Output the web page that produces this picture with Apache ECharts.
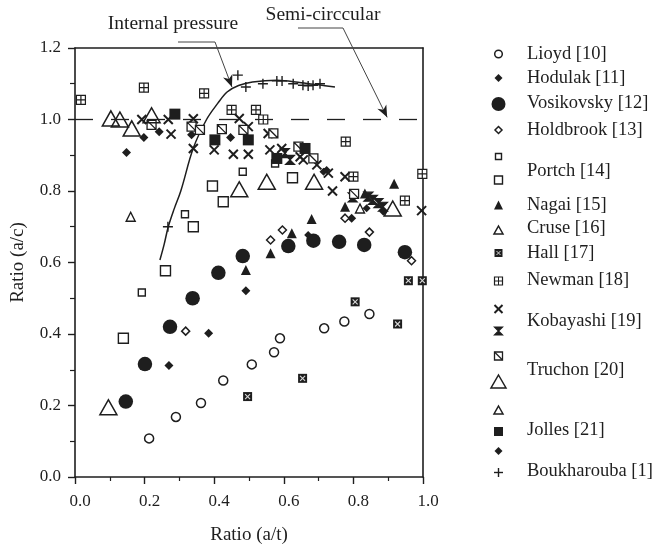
<!DOCTYPE html>
<html><head><meta charset="utf-8">
<script src="https://cdn.jsdelivr.net/npm/echarts@6/dist/echarts.min.js"></script>
<style>html,body{margin:0;padding:0;background:#fff}#c{width:658px;height:558px}</style>
</head><body><div id="c"></div>
<script>
// ---------- data ----------
const xTickLabels = ['0.0','0.2','0.4','0.6','0.8','1.0'];
const yTickLabels = ['0.0','0.2','0.4','0.6','0.8','1.0','1.2'];
const xAxisName = 'Ratio (a/t)';
const yAxisName = 'Ratio (a/c)';

const lioyd = [[0.213,0.108],[0.29,0.168],[0.362,0.207],[0.426,0.27],[0.508,0.315],[0.572,0.349],[0.589,0.388],[0.716,0.416],[0.774,0.435],[0.846,0.456]];
const hodulak = [[0.148,0.908],[0.198,0.95],[0.242,0.966],[0.335,0.957],[0.447,0.95],[0.27,0.312],[0.384,0.402],[0.491,0.521],[0.795,0.724]];
const vosikovsky = [[0.146,0.211],[0.201,0.316],[0.273,0.42],[0.338,0.50],[0.412,0.571],[0.482,0.618],[0.613,0.646],[0.685,0.661],[0.759,0.658],[0.831,0.649],[0.948,0.629]];
const holdbrook = [[0.318,0.408],[0.562,0.663],[0.596,0.691],[0.776,0.724],[0.846,0.685],[0.967,0.605]];
const portchSmall = [[0.192,0.516],[0.316,0.735],[0.482,0.854],[0.575,0.877]];
const portchLarge = [[0.139,0.388],[0.26,0.577],[0.34,0.70],[0.395,0.814],[0.426,0.77],[0.625,0.837]];
const nagai = [[0.491,0.579],[0.562,0.626],[0.623,0.682],[0.68,0.722],[0.776,0.756],[0.833,0.793],[0.917,0.82]];
const cruse = [[0.16,0.728],[0.819,0.751]];
const hall = [[0.496,0.225],[0.654,0.276],[0.805,0.49],[0.927,0.428],[0.958,0.549],[0.998,0.549]];
const newman = [[0.017,1.055],[0.198,1.089],[0.371,1.073],[0.45,1.027],[0.52,1.027],[0.541,1.0],[0.778,0.938],[0.80,0.84],[0.948,0.773],[0.998,0.848]];
const kobayashiA = [[0.192,1.0],[0.268,1.0],[0.276,0.959],[0.34,1.002],[0.34,0.919],[0.40,0.915],[0.472,1.003],[0.455,0.903],[0.498,0.903],[0.498,0.98],[0.555,0.961],[0.56,0.915],[0.594,0.919],[0.647,0.896],[0.656,0.887],[0.695,0.873],[0.728,0.85],[0.776,0.84],[0.74,0.80],[0.996,0.745]];
const kobayashiB = [[0.603,0.906],[0.618,0.887],[0.798,0.782],[0.843,0.784],[0.856,0.775],[0.872,0.766],[0.885,0.756]];
const truchonSq = [[0.22,0.985],[0.335,0.98],[0.359,0.971],[0.422,0.973],[0.484,0.971],[0.57,0.961],[0.642,0.924],[0.685,0.891],[0.802,0.792]];
const truchonTri = [[0.096,0.195],[0.103,1.003],[0.129,1.0],[0.163,0.975],[0.22,1.012],[0.472,0.805],[0.551,0.826],[0.687,0.826],[0.913,0.751]];
const jollesSq = [[0.287,1.015],[0.402,0.943],[0.498,0.943],[0.58,0.891],[0.661,0.919]];
const jollesDia = [[0.714,0.854],[0.723,0.859],[0.838,0.752],[0.886,0.742],[0.67,0.677]];
const boukharouba = [[0.267,0.70],[0.468,1.124],[0.491,1.091],[0.54,1.10],[0.58,1.108],[0.595,1.108],[0.627,1.10],[0.655,1.096],[0.67,1.094],[0.684,1.096],[0.704,1.10]];
const internalPressureCurve = [[0.244,0.607],[0.256,0.65],[0.268,0.70],[0.285,0.75],[0.304,0.80],[0.34,0.92],[0.378,1.0],[0.41,1.045],[0.437,1.077],[0.47,1.095],[0.51,1.105],[0.58,1.11],[0.65,1.103],[0.70,1.097],[0.747,1.091]];
const semiCircularLine = [[0,1.0],[1,1.0]];
const annInternal = {text:'Internal pressure', tip:[0.451,1.091]};
const annSemi = {text:'Semi-circcular', tip:[0.897,1.006]};

const legendRows = [
  {label:'Lioyd [10]', markers:['circleO']},
  {label:'Hodulak [11]', markers:['diamondF']},
  {label:'Vosikovsky [12]', markers:['circleBig']},
  {label:'Holdbrook [13]', markers:['diamondO']},
  {label:'Portch [14]', markers:['rectSmall','rectO']},
  {label:'Nagai [15]', markers:['triF']},
  {label:'Cruse [16]', markers:['triO']},
  {label:'Hall [17]', markers:['hall']},
  {label:'Newman [18]', markers:['newman']},
  {label:'Kobayashi [19]', markers:['cross','hour']},
  {label:'Truchon [20]', markers:['slash','triBig']},
  {label:'', markers:['triO']},
  {label:'Jolles [21]', markers:['rectF','diamondF']},
  {label:'Boukharouba [1]', markers:['plus']}
];

// ---------- style ----------
const INK = '#1e1e1e';
const FONT = 'Liberation Serif';
const SYM = {
  newman: 'path://M0,0H10V10H0Z M5,0V10 M0,5H10',
  cross: 'path://M0,0L10,10 M10,0L0,10',
  hour: 'path://M0,0H10L0,10H10Z',
  slash: 'path://M0,0H10V10H0Z M0,0L10,10',
  plus: 'path://M5,0V10 M0,5H10'
};
function sc(name, data, symbol, size, fill, stroke, bw, z) {
  return {type:'scatter', name, data, symbol, symbolSize:size, z:z||3, silent:true,
    itemStyle:{color:fill, borderColor:stroke, borderWidth:bw, opacity:1},
    emphasis:{disabled:true}};
}
const series = [
  {type:'line', name:'semi', data:semiCircularLine, symbol:'none', silent:true, z:1,
    lineStyle:{color:INK, width:1.3, type:[18,18]}},
  {type:'line', name:'internal', data:internalPressureCurve, symbol:'none', smooth:0.35, silent:true, z:1,
    lineStyle:{color:INK, width:1.5}},
  sc('Lioyd', lioyd, 'circle', 9, '#fff', INK, 1.5),
  sc('Hodulak', hodulak, 'diamond', 9, INK, INK, 0),
  sc('Vosikovsky', vosikovsky, 'circle', 14.5, INK, INK, 0),
  sc('Holdbrook', holdbrook, 'diamond', 8, '#fff', INK, 1.5),
  sc('PortchS', portchSmall, 'rect', 7, '#fff', INK, 1.4),
  sc('PortchL', portchLarge, 'rect', 10, '#fff', INK, 1.4),
  sc('Nagai', nagai, 'triangle', 10, INK, INK, 0),
  sc('Cruse', cruse, 'triangle', 9, '#fff', INK, 1.4),
  sc('Hall', hall, 'rect', 9, INK, INK, 0),
  sc('HallMark', hall, SYM.cross, 5, 'transparent', '#d8d8d8', 1.1, 4),
  sc('Newman', newman, SYM.newman, 9, '#fff', INK, 1.2),
  sc('KobayashiA', kobayashiA, SYM.cross, 9, 'transparent', INK, 2),
  sc('KobayashiB', kobayashiB, SYM.hour, 9, INK, INK, 1.2),
  sc('TruchonSq', truchonSq, SYM.slash, 9, '#fff', INK, 1.3),
  sc('TruchonTri', truchonTri, 'triangle', [17,15], 'rgba(255,255,255,0)', INK, 1.5),
  sc('JollesSq', jollesSq, 'rect', 11, INK, INK, 0),
  sc('JollesDia', jollesDia, 'diamond', 8, INK, INK, 0),
  sc('Boukharouba', boukharouba, SYM.plus, 10, 'transparent', INK, 1.4, 4)
];

const axisCommon = {
  type:'value', splitLine:{show:false},
  axisLine:{show:true, onZero:false, lineStyle:{color:INK, width:1.6}},
};
const chart = echarts.init(document.getElementById('c'), null, {renderer:'canvas'});
chart.setOption({
  animation:false,
  backgroundColor:'#fff',
  grid:{left:75, top:48, width:348, height:429, containLabel:false},
  xAxis:[
    Object.assign({}, axisCommon, {min:0, max:1, interval:0.2, position:'bottom',
      name:xAxisName, nameLocation:'middle', nameGap:49,
      nameTextStyle:{fontFamily:FONT, fontSize:19, color:INK},
      axisTick:{show:true, length:7, lineStyle:{color:INK, width:1.4}},
      minorTick:{show:true, splitNumber:2, length:4, lineStyle:{color:INK, width:1.2}},
      axisLabel:{fontFamily:FONT, fontSize:17, color:INK, margin:16, padding:[0,0,0,10],
        formatter:(v)=>xTickLabels[Math.round(v/0.2)]}}),
    Object.assign({}, axisCommon, {min:0, max:1, position:'top', axisTick:{show:false}, axisLabel:{show:false}})
  ],
  yAxis:[
    Object.assign({}, axisCommon, {min:0, max:1.2, interval:0.2, position:'left',
      name:yAxisName, nameLocation:'middle', nameGap:47, nameRotate:90,
      nameTextStyle:{fontFamily:FONT, fontSize:19, color:INK},
      axisTick:{show:true, length:7, lineStyle:{color:INK, width:1.4}},
      minorTick:{show:true, splitNumber:2, length:5, lineStyle:{color:INK, width:1.2}},
      axisLabel:{fontFamily:FONT, fontSize:17, color:INK, margin:14, padding:[0,0,9,0],
        formatter:(v)=>yTickLabels[Math.round(v/0.2)]}}),
    Object.assign({}, axisCommon, {min:0, max:1.2, position:'right', axisTick:{show:false}, axisLabel:{show:false}})
  ],
  series: series
});

// ---------- annotations & legend (graphic) ----------
function arrowHead(from, tip, len, half) {
  const dx = tip[0]-from[0], dy = tip[1]-from[1];
  const L = Math.hypot(dx,dy); const ux = dx/L, uy = dy/L;
  const bx = tip[0]-ux*len, by = tip[1]-uy*len;
  return {type:'polygon', shape:{points:[tip,[bx-uy*half, by+ux*half],[tip[0]-ux*len*0.7, tip[1]-uy*len*0.7],[bx+uy*half, by-ux*half]]},
    style:{fill:INK}, z:20};
}
const g = [];
const tipI = chart.convertToPixel({gridIndex:0}, annInternal.tip);
const tipS = chart.convertToPixel({gridIndex:0}, annSemi.tip);
g.push({type:'text', x:173, y:24, z:20, style:{text:annInternal.text, fontFamily:FONT, fontSize:19.5, fill:INK, align:'center', verticalAlign:'middle'}});
g.push({type:'polyline', z:20, shape:{points:[[178,42],[215,42],tipI]}, style:{stroke:'#444', lineWidth:1, fill:null}});
g.push(arrowHead([215,42], tipI, 12, 5));
g.push({type:'text', x:323, y:15, z:20, style:{text:annSemi.text, fontFamily:FONT, fontSize:19.5, fill:INK, align:'center', verticalAlign:'middle'}});
g.push({type:'polyline', z:20, shape:{points:[[298,28],[343,28],tipS]}, style:{stroke:'#444', lineWidth:1, fill:null}});
g.push(arrowHead([343,28], tipS, 12, 5));

function marker(type, cx, cy) {
  const out = [];
  const line = (a,b,c,d,col,w)=>({type:'line', z:20, shape:{x1:a,y1:b,x2:c,y2:d}, style:{stroke:col||INK, lineWidth:w||1.3}});
  const rect = (s,fill,w)=>({type:'rect', z:20, shape:{x:cx-s/2,y:cy-s/2,width:s,height:s}, style:{fill:fill, stroke:INK, lineWidth:w}});
  const dia = (s,fill,w)=>({type:'polygon', z:20, shape:{points:[[cx,cy-s/2],[cx+s/2,cy],[cx,cy+s/2],[cx-s/2,cy]]}, style:{fill:fill, stroke:INK, lineWidth:w}});
  const tri = (w0,h,fill,lw)=>({type:'polygon', z:20, shape:{points:[[cx,cy-h/2],[cx+w0/2,cy+h/2],[cx-w0/2,cy+h/2]]}, style:{fill:fill, stroke:INK, lineWidth:lw}});
  switch(type){
    case 'circleO': out.push({type:'circle', z:20, shape:{cx,cy,r:3.8}, style:{fill:'#fff', stroke:INK, lineWidth:1.5}}); break;
    case 'circleBig': out.push({type:'circle', z:20, shape:{cx,cy,r:7}, style:{fill:INK}}); break;
    case 'diamondF': out.push(dia(8,INK,0)); break;
    case 'diamondO': out.push(dia(7,'#fff',1.5)); break;
    case 'rectSmall': out.push(rect(6,'#fff',1.4)); break;
    case 'rectO': out.push(rect(8,'#fff',1.4)); break;
    case 'rectF': out.push(rect(9,INK,0)); break;
    case 'triF': out.push(tri(9,9,INK,0)); break;
    case 'triO': out.push(tri(9,8,'#fff',1.5)); break;
    case 'triBig': out.push(tri(15,13,'#fff',1.5)); break;
    case 'hall': out.push(rect(8,INK,0), line(cx-2,cy-2,cx+2,cy+2,'#d8d8d8',1), line(cx+2,cy-2,cx-2,cy+2,'#d8d8d8',1)); break;
    case 'newman': out.push(rect(8,'#fff',1.2), line(cx,cy-4,cx,cy+4,INK,1), line(cx-4,cy,cx+4,cy,INK,1)); break;
    case 'cross': out.push(line(cx-4,cy-4,cx+4,cy+4,INK,2), line(cx+4,cy-4,cx-4,cy+4,INK,2)); break;
    case 'hour': out.push({type:'polygon', z:20, shape:{points:[[cx-4,cy-4],[cx+4,cy-4],[cx-4,cy+4],[cx+4,cy+4]]}, style:{fill:INK, stroke:INK, lineWidth:1.2}}); break;
    case 'slash': out.push(rect(8,'#fff',1.3), line(cx-4,cy-4,cx+4,cy+4,INK,1.3)); break;
    case 'plus': out.push(line(cx,cy-4.5,cx,cy+4.5,INK,1.4), line(cx-4.5,cy,cx+4.5,cy,INK,1.4)); break;
  }
  return out;
}
// legend layout: marker y-positions and label y-positions
const legendMarkerY = [[54],[78],[104],[130],[156.5,180],[205],[230],[253],[281],[309,331],[356,381.5],[410],[431.5,451],[472.5]];
const legendLabelY = [54,78,103,130,171.5,205,228,253,280,321.5,370.5,null,430.5,471.5];
legendRows.forEach((row,i)=>{
  row.markers.forEach((m,j)=>{ marker(m, 498.5, legendMarkerY[i][j]).forEach(e=>g.push(e)); });
  if (row.label) g.push({type:'text', x:527, y:legendLabelY[i], z:20,
    style:{text:row.label, fontFamily:FONT, fontSize:18.5, fill:INK, align:'left', verticalAlign:'middle'}});
});
chart.setOption({graphic:{elements:g}});
</script>
</body></html>
